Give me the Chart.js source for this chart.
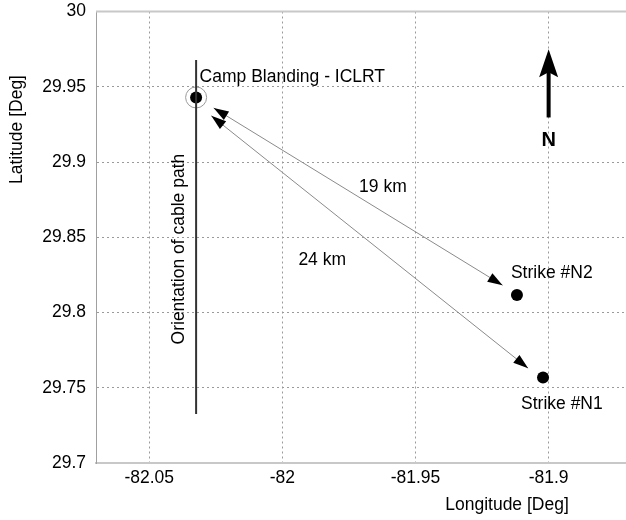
<!DOCTYPE html>
<html>
<head>
<meta charset="utf-8">
<script src="https://cdn.jsdelivr.net/npm/chart.js@4/dist/chart.umd.min.js"></script>
<style>
html,body{margin:0;padding:0;background:#fff;overflow:hidden;}
#wrap{width:640px;height:520px;}
</style>
</head>
<body>
<div id="wrap"><canvas id="c" width="640" height="520"></canvas></div>
<script>
// ---- data ----
const siteNames = ['Camp Blanding - ICLRT', 'Strike #N2', 'Strike #N1'];
const siteLon = [-82.0324, -81.9119, -81.9021];
const siteLat = [29.9429, 29.8117, 29.7568];

const cableLon = [-82.0324, -82.0324];
const cableLat = [29.9677, 29.7325];
const cableLabel = 'Orientation of cable path';

const arrowLabels = ['19 km', '24 km'];
const arrowFromLon = [-82.0258, -82.0267];
const arrowFromLat = [29.9359, 29.9307];
const arrowToLon = [-81.9173, -81.9077];
const arrowToLat = [29.8181, 29.7630];

const northLon = [-81.9, -81.9];
const northLat = [29.9296, 29.9750];
const northLabel = 'N';

const xTicks = [-82.05, -82, -81.95, -81.9];
const xTickLabels = ['-82.05', '-82', '-81.95', '-81.9'];
const yTicks = [29.7, 29.75, 29.8, 29.85, 29.9, 29.95, 30];
const yTickLabels = ['29.7', '29.75', '29.8', '29.85', '29.9', '29.95', '30'];
const xTitle = 'Longitude [Deg]';
const yTitle = 'Latitude [Deg]';

const FONT = '"Liberation Sans", Arial, sans-serif';
const FS = 17.5;

function pts(xs, ys) { return xs.map((x, i) => ({x: x, y: ys[i]})); }

const datasets = [
  {
    label: 'cable', type: 'line', data: pts(cableLon, cableLat),
    borderColor: '#333', borderWidth: 2, pointRadius: 0, showLine: true, fill: false
  },
  {
    label: 'ring', data: [{x: siteLon[0], y: siteLat[0]}],
    pointRadius: 10.5, pointBackgroundColor: 'rgba(0,0,0,0)', pointBorderColor: '#999', pointBorderWidth: 1
  },
  {
    label: 'sites', data: pts(siteLon, siteLat),
    pointRadius: 6, pointBackgroundColor: '#000', pointBorderColor: '#000', pointBorderWidth: 0
  }
];
arrowLabels.forEach((l, i) => {
  datasets.push({
    label: l, type: 'line',
    data: [{x: arrowFromLon[i], y: arrowFromLat[i]}, {x: arrowToLon[i], y: arrowToLat[i]}],
    borderColor: '#8a8a8a', borderWidth: 1, pointRadius: 0, showLine: true, fill: false
  });
});

function head(ctx, tx, ty, fx, fy, len, hw, notch) {
  const a = Math.atan2(ty - fy, tx - fx);
  const c = Math.cos(a), s = Math.sin(a);
  const bx = tx - c * len, by = ty - s * len;
  ctx.beginPath();
  ctx.moveTo(tx, ty);
  ctx.lineTo(bx - s * hw, by + c * hw);
  ctx.lineTo(tx - c * (len - notch), ty - s * (len - notch));
  ctx.lineTo(bx + s * hw, by - c * hw);
  ctx.closePath();
  ctx.fill();
}

const deco = {
  id: 'deco',
  beforeDatasetsDraw(chart) {
    const ctx = chart.ctx, a = chart.chartArea;
    ctx.save();
    ctx.strokeStyle = '#c8c8c8';
    ctx.lineWidth = 2;
    ctx.beginPath();
    ctx.moveTo(a.left, a.top);
    ctx.lineTo(a.right, a.top);
    ctx.stroke();
    ctx.restore();
  },
  afterDatasetsDraw(chart) {
    const ctx = chart.ctx, xs = chart.scales.x, ys = chart.scales.y, a = chart.chartArea;
    const X = v => xs.getPixelForValue(v), Y = v => ys.getPixelForValue(v);
    ctx.save();
    ctx.fillStyle = '#000';
    for (let i = 0; i < arrowLabels.length; i++) {
      const x1 = X(arrowFromLon[i]), y1 = Y(arrowFromLat[i]);
      const x2 = X(arrowToLon[i]), y2 = Y(arrowToLat[i]);
      head(ctx, x1, y1, x2, y2, 15, 5, 0);
      head(ctx, x2, y2, x1, y1, 15, 5, 0);
    }
    const nx = X(northLon[0]), ny0 = Y(northLat[0]), ny1 = Y(northLat[1]);
    ctx.strokeStyle = '#000';
    ctx.lineWidth = 4;
    ctx.beginPath();
    ctx.moveTo(nx, ny0);
    ctx.lineTo(nx, ny1 + 20);
    ctx.stroke();
    head(ctx, nx, ny1, nx, ny0, 28, 9.5, 5);

    ctx.fillStyle = '#000';
    ctx.font = 'bold 20px ' + FONT;
    ctx.textAlign = 'center';
    ctx.textBaseline = 'middle';
    ctx.fillText(northLabel, nx, ny0 + 23);

    ctx.font = FS + 'px ' + FONT;
    ctx.textAlign = 'left';
    ctx.textBaseline = 'alphabetic';
    ctx.fillText(siteNames[0], X(siteLon[0]) + 3.5, Y(siteLat[0]) - 15);
    ctx.textBaseline = 'middle';
    ctx.fillText(siteNames[1], X(siteLon[1]) - 6, Y(siteLat[1]) - 21.5);
    ctx.fillText(siteNames[2], X(siteLon[2]) - 22, Y(siteLat[2]) + 27);
    const m0x = (X(arrowFromLon[0]) + X(arrowToLon[0])) / 2, m0y = (Y(arrowFromLat[0]) + Y(arrowToLat[0])) / 2;
    ctx.fillText(arrowLabels[0], m0x + 1, m0y - 9);
    const m1x = (X(arrowFromLon[1]) + X(arrowToLon[1])) / 2, m1y = (Y(arrowFromLat[1]) + Y(arrowToLat[1])) / 2;
    ctx.textAlign = 'center';
    ctx.fillText(arrowLabels[1], m1x - 47.5, m1y + 18.5);
    const cx = X(cableLon[0]) - 16.5, cy = (Y(cableLat[0]) + Y(cableLat[1])) / 2 + 12;
    ctx.save();
    ctx.translate(cx, cy);
    ctx.rotate(-Math.PI / 2);
    ctx.fillText(cableLabel, 0, 0);
    ctx.restore();
    ctx.fillText(xTitle, a.left + 411, a.bottom + 42);
    ctx.save();
    ctx.translate(a.left - 79, a.top + 118);
    ctx.rotate(-Math.PI / 2);
    ctx.fillText(yTitle, 0, 0);
    ctx.restore();
    ctx.restore();
  }
};

new Chart(document.getElementById('c'), {
  type: 'scatter',
  data: {datasets: datasets},
  plugins: [deco],
  options: {
    responsive: false,
    animation: false,
    events: [],
    layout: {padding: {top: 11, right: 11, left: 0, bottom: 0}},
    plugins: {legend: {display: false}, tooltip: {enabled: false}},
    scales: {
      x: {
        type: 'linear', min: -82.07, max: -81.87,
        afterBuildTicks: s => { s.ticks = xTicks.map(v => ({value: v})); },
        afterFit: s => { s.height = 57; s.paddingLeft = 0; s.paddingRight = 0; },
        ticks: {
          color: '#000', font: {family: FONT, size: FS}, padding: 5,
          maxRotation: 0, autoSkip: false,
          callback: (v) => { const i = xTicks.findIndex(t => Math.abs(t - v) < 1e-9); return i >= 0 ? xTickLabels[i] : ''; }
        },
        grid: {color: '#9a9a9a', lineWidth: 1, drawTicks: false},
        border: {display: true, color: '#c8c8c8', width: 2, dash: [2, 3]}
      },
      y: {
        type: 'linear', min: 29.7, max: 30,
        afterBuildTicks: s => { s.ticks = yTicks.map(v => ({value: v})); },
        afterFit: s => { s.width = 96; s.paddingTop = 0; s.paddingBottom = 0; },
        ticks: {
          color: '#000', font: {family: FONT, size: FS}, padding: 10,
          autoSkip: false,
          callback: (v) => { const i = yTicks.findIndex(t => Math.abs(t - v) < 1e-9); return i >= 0 ? yTickLabels[i] : ''; }
        },
        grid: {color: '#9a9a9a', lineWidth: 1, drawTicks: false},
        border: {display: true, color: '#a0a0a0', width: 1, dash: [2, 3]}
      }
    }
  }
});
</script>
</body>
</html>
